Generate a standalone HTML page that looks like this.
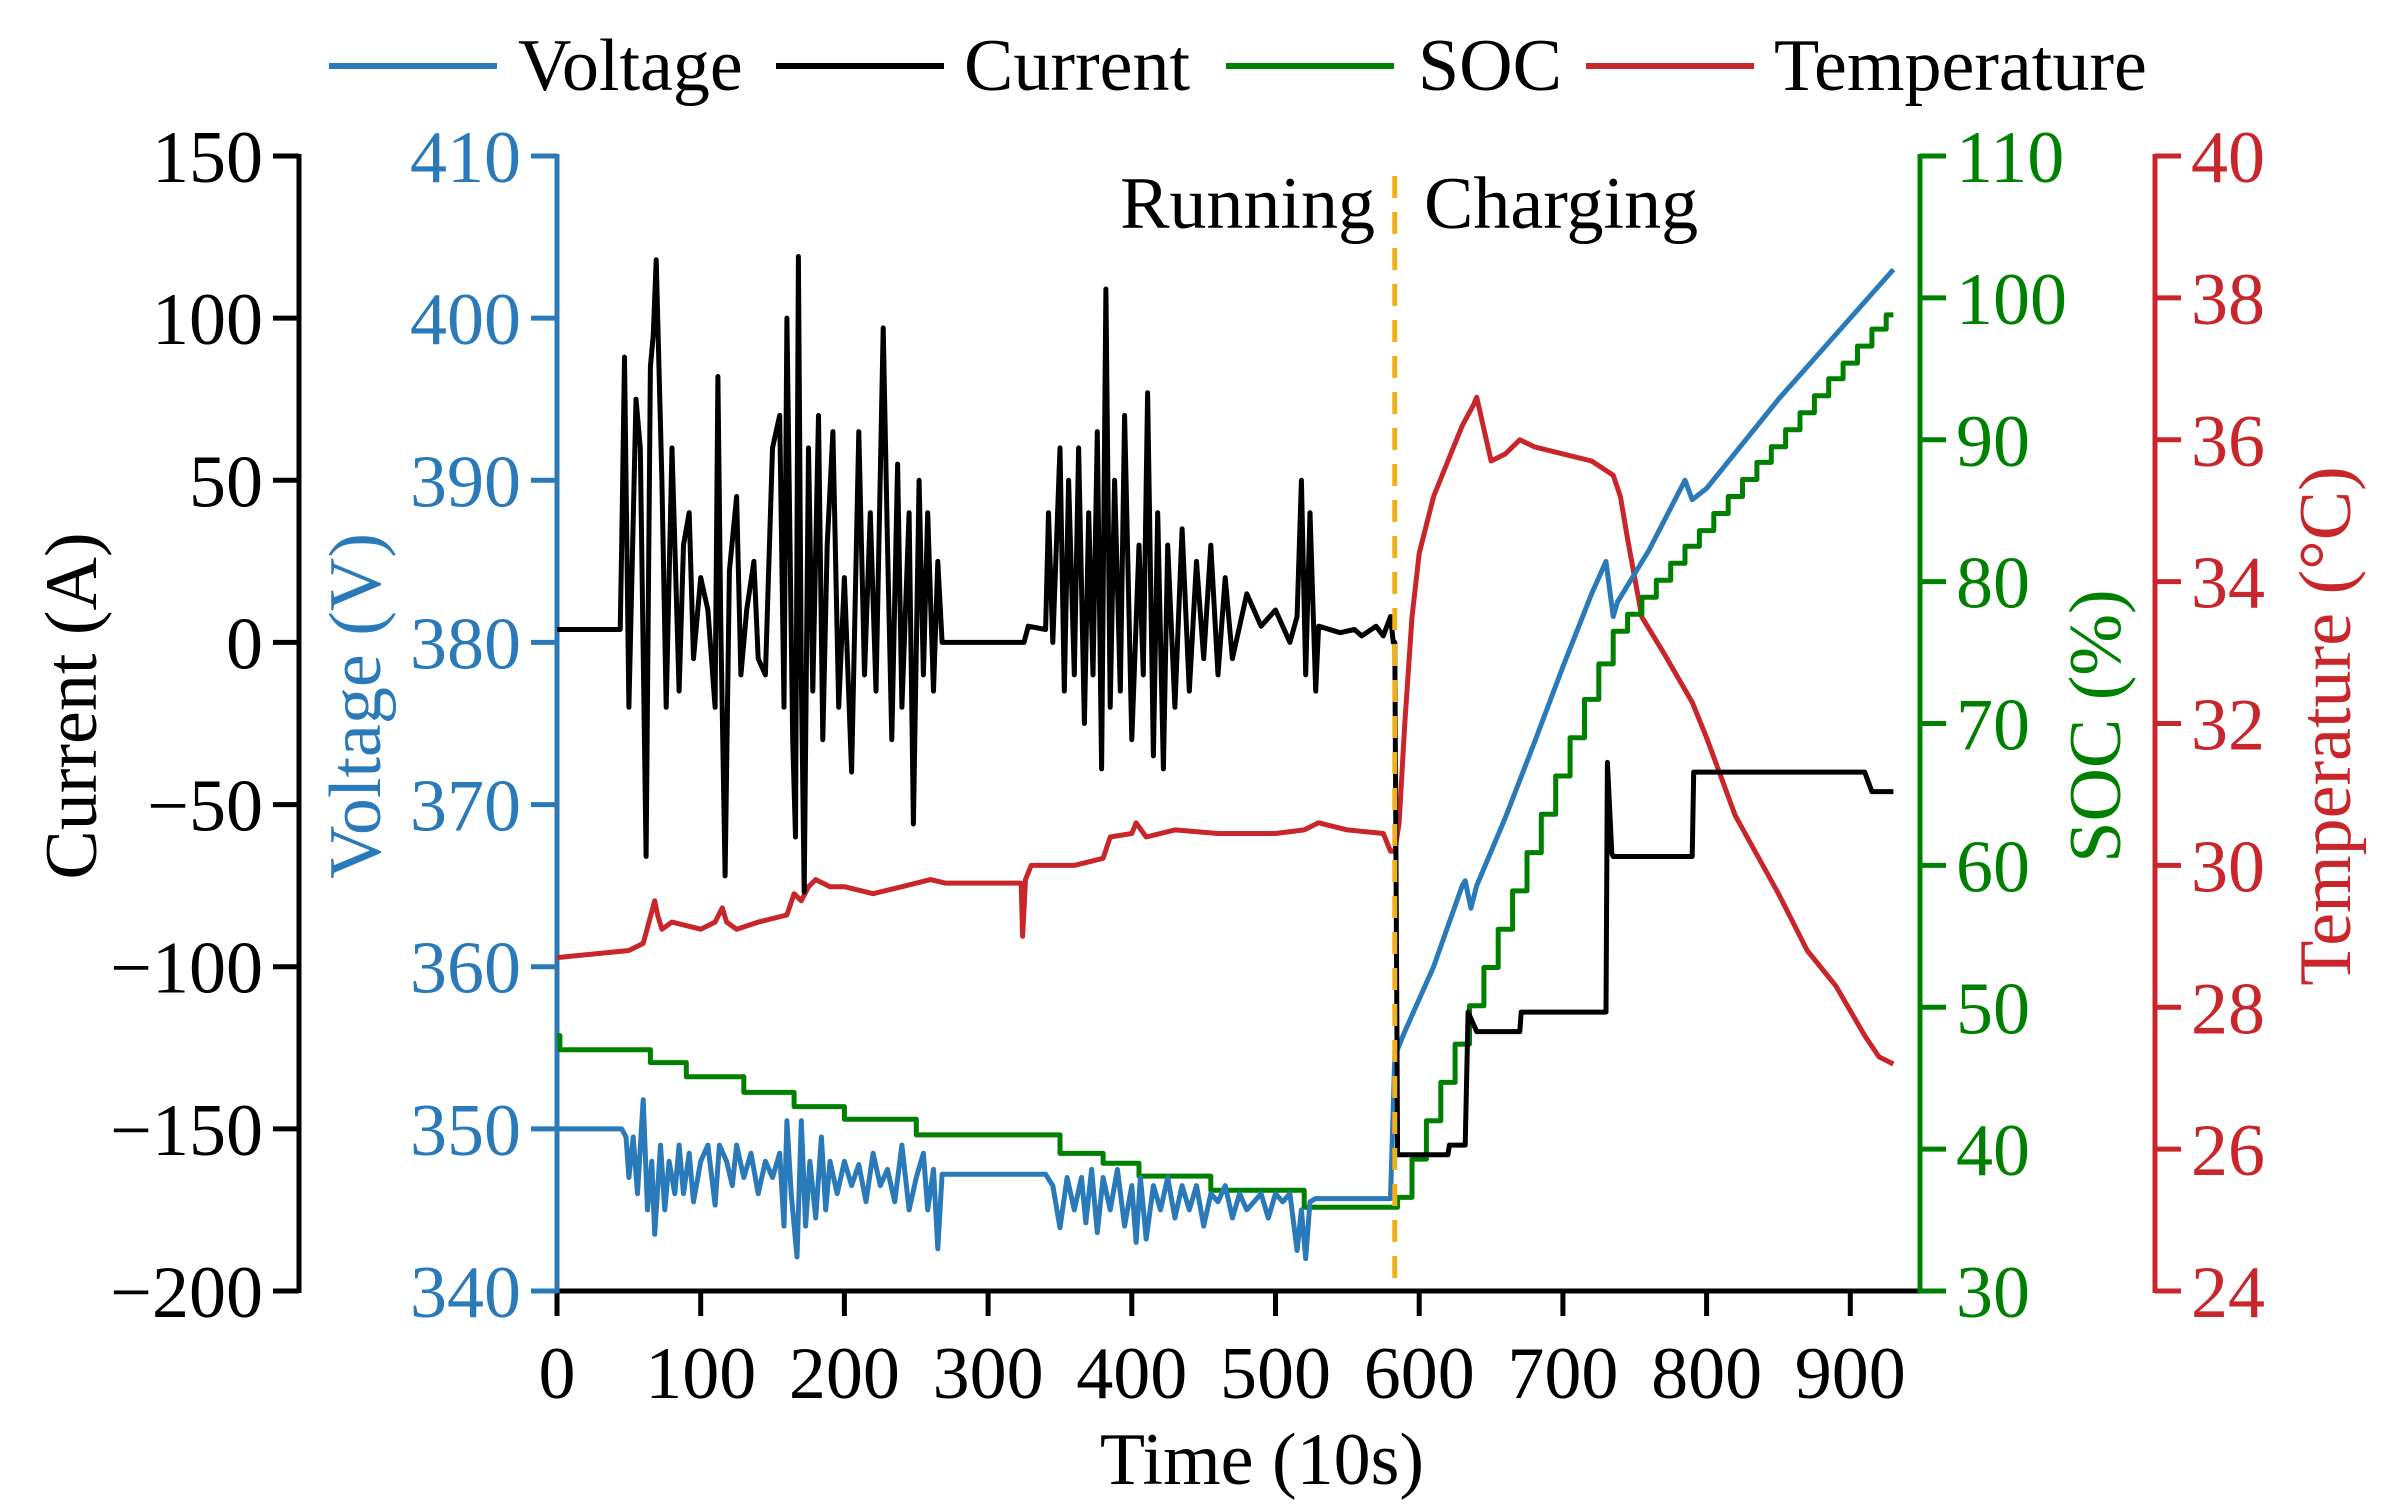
<!DOCTYPE html>
<html><head><meta charset="utf-8"><style>
html,body{margin:0;padding:0;background:#fff}
svg{display:block;font-family:"Liberation Serif",serif}
</style></head><body>
<svg id="chart" width="2384" height="1511" viewBox="0 0 2384 1511" xmlns="http://www.w3.org/2000/svg">
<g id="axes"></g>
<g id="series"></g>
<g font-size="74">
  <line x1="329" y1="66" x2="497" y2="66" stroke="#2a7ab9" stroke-width="6"/>
  <text x="518" y="90">Voltage</text>
  <line x1="776" y1="66" x2="944" y2="66" stroke="#000" stroke-width="6"/>
  <text x="964" y="90">Current</text>
  <line x1="1226" y1="66" x2="1394" y2="66" stroke="#008000" stroke-width="6"/>
  <text x="1418" y="90">SOC</text>
  <line x1="1586" y1="66" x2="1754" y2="66" stroke="#c8262a" stroke-width="6"/>
  <text x="1774" y="90">Temperature</text>
</g>
<text x="1375" y="228" font-size="74" text-anchor="end">Running</text>
<text x="1424" y="228" font-size="74">Charging</text>
<text x="1262" y="1484" font-size="74" text-anchor="middle">Time (10s)</text>
<text transform="translate(96,706) rotate(-90)" font-size="74" text-anchor="middle">Current (A)</text>
<text transform="translate(380,706) rotate(-90)" font-size="74" text-anchor="middle" fill="#2a7ab9">Voltage (V)</text>
<text transform="translate(2120,726) rotate(-90)" font-size="74" text-anchor="middle" fill="#008000">SOC (%)</text>
<text transform="translate(2350,726) rotate(-90)" font-size="74" text-anchor="middle" fill="#c8262a">Temperature (°C)</text>
</svg>
<script>
const xTicks=[0,100,200,300,400,500,600,700,800,900];
const currentTicks=[150,100,50,0,-50,-100,-150,-200];
const voltageTicks=[410,400,390,380,370,360,350,340];
const socTicks=[110,100,90,80,70,60,50,40,30];
const tempTicks=[40,38,36,34,32,30,28,26,24];
const phaseBoundary=583;

const voltageT=[0,45,48,50,53,56,60,63,66,68,72,75,78,82,85,88,92,95,100,105,110,113,118,122,125,130,135,140,145,150,155,158,160,163,167,170,173,176,180,184,187,190,195,200,205,210,215,220,225,230,235,240,245,250,255,258,262,265,268,270,340,345,350,355,360,365,368,372,376,380,385,390,395,400,403,406,410,415,420,425,430,435,440,445,450,455,460,465,470,475,480,490,495,500,505,510,515,518,521,524,528,580,583,590,600,610,620,630,632,636,640,660,680,700,720,730,735,738,760,785,790,800,850,900,910,930];
const voltageV=[350,350,349.5,347,349.5,346,351.8,345,348,343.5,349,345,348,346,349,346,348.5,345.5,348,349,345.3,349,348,346.5,349,347,348.5,346,348,347,348.5,344,350.5,346,342.1,350.5,344,348,344.5,349.5,345,348,346,348,346.5,347.8,345.5,348.5,346.5,347.5,345.5,349,345,347,348.5,345,347.5,342.6,347.2,347.2,347.2,346.5,343.9,347,345,347,344.2,347.5,343.6,347,345,347.5,344,346.5,343,347,343.2,346.5,345,347,344.5,346.5,345,346.5,344,346,345.5,346.5,344.5,346,345,346,344.5,346,345.5,346,342.5,345,342,345.5,345.7,345.7,354.5,356,358,360,362.5,365,365.3,363.6,365,369.2,373.8,378.5,383,385,381.6,382.5,385.7,390,388.8,389.5,395,400,401,403];

const currentT=[0,44,45,47,50,55,58,62,65,67,
 69,73,76,80,85,88,92,95,100,105,
 110,112,114,117,120,125,128,132,137,140,
 145,150,155,158,160,164,166,168,170,172,
 175,178,182,185,188,192,196,200,205,210,
 214,218,222,227,230,233,237,240,245,248,
 252,255,258,262,265,268,270,325,328,340,
 342,345,350,353,356,360,363,367,370,373,
 376,379,382,385,388,392,395,400,405,408,
 411,415,418,422,425,430,435,440,445,450,
 455,460,465,470,480,490,500,510,515,518,
 521,524,528,530,545,555,560,570,575,580,
 582,583,585,620,621,632,634,640,670,671,
 730,731,734,735,790,791,910,915,930];
const currentI=[4,4,30,88,-20,75,60,-66,85,95,
 118,50,-20,60,-15,30,40,-5,20,10,
 -20,82,5,-72,22,45,-10,10,25,-5,
 -10,60,70,-20,100,-30,-60,119,-10,-77,
 60,-15,70,-30,30,65,-20,20,-40,65,
 -10,40,-15,97,30,-30,55,-20,40,-56,
 50,-10,40,-15,25,0,0,0,5,4,
 40,0,60,-15,50,-10,60,-25,40,-10,
 65,-39,109,-20,50,-15,70,-30,30,-10,
 77,-35,40,-39,30,-20,35,-15,25,-5,
 30,-10,20,-5,15,5,10,0,8,50,
 -10,40,-15,5,3,4,2,5,2,8,
 0,0,-158,-158,-155,-155,-114,-120,-120,-114,
 -114,-37,-65,-66,-66,-40,-40,-46,-46];

const tempT=[0,50,60,68,70,73,80,100,110,115,118,125,140,160,165,170,175,180,190,200,220,240,260,270,323,324,326,330,360,380,385,400,403,410,430,460,500,520,530,550,575,580,583,586,590,595,600,610,620,630,638,640,650,660,670,680,700,720,735,740,745,755,770,790,800,820,850,870,890,910,920,930];
const tempC=[28.7,28.8,28.9,29.5,29.3,29.1,29.2,29.1,29.2,29.4,29.2,29.1,29.2,29.3,29.6,29.5,29.7,29.8,29.7,29.7,29.6,29.7,29.8,29.75,29.75,29.0,29.8,30.0,30.0,30.1,30.4,30.45,30.6,30.4,30.5,30.45,30.45,30.5,30.6,30.5,30.45,30.2,30.2,30.6,32.0,33.5,34.4,35.2,35.7,36.2,36.5,36.6,35.7,35.8,36.0,35.9,35.8,35.7,35.5,35.2,34.6,33.5,33.0,32.3,31.8,30.7,29.6,28.8,28.3,27.6,27.3,27.2];

const socT=[0,2,65,90,130,165,200,250,350,380,405,455,520,585,595,605,615,625,635,645,655,665,675,685,695,705,715,725,735,745,755,765,775,785,795,805,815,825,835,845,855,865,875,885,895,905,915,925,930];
const socV=[48,47,46.1,45.1,44,43,42.1,41,39.7,39,38.1,37.1,35.9,36.6,39.3,42,44.7,47.4,50.1,52.8,55.5,58.2,60.9,63.6,66.3,69,71.7,74.2,76.5,77.7,78.9,80.1,81.3,82.5,83.6,84.8,86,87.2,88.4,89.5,90.7,91.9,93.1,94.3,95.4,96.6,97.8,98.8,98.8];

const NS='http://www.w3.org/2000/svg';
const X0=557,XS=1.437,YT=156,YB=1291,H=YB-YT;
const xS=t=>X0+t*XS;
const yV=v=>YB-(v-340)/70*H;
const yI=i=>YB-(i+200)/350*H;
const yS=s=>YB-(s-30)/80*H;
const yTe=c=>YB-(c-24)/16*H;
const BLUE='#2a7ab9',GREEN='#008000',RED='#c8262a';
const axes=document.getElementById('axes'),series=document.getElementById('series');
function mk(tag,attrs,parent){const e=document.createElementNS(NS,tag);for(const k in attrs)e.setAttribute(k,attrs[k]);parent.appendChild(e);return e;}

let e=mk('line',{x1:X0-2,y1:YB,x2:1920,y2:YB,stroke:'#000','stroke-width':5},axes);


xTicks.forEach(t=>{
  let l=mk('line',{x1:xS(t),y1:YB,x2:xS(t),y2:YB+25,stroke:'#000','stroke-width':5},axes);
  
  
  let tx=mk('text',{x:xS(t),y:1398,'font-size':74,'text-anchor':'middle'},axes);tx.textContent=t;
  
  
});
function yAxis(x,ticks,fy,color,side,name){
  let a=mk('line',{x1:x,y1:YT-2,x2:x,y2:YB+2,stroke:color,'stroke-width':5},axes);
  
  
  ticks.forEach(v=>{
    const y=fy(v);
    let l=mk('line',{x1:x,y1:y,x2:x+side*26,y2:y,stroke:color,'stroke-width':5},axes);
    
    
    let tx=mk('text',{x:x+side*36,y:y+26,'font-size':74,fill:color,'text-anchor':side<0?'end':'start'},axes);
    tx.textContent=v<0?'\u2212'+(-v):v;
    
    
  });
}
yAxis(299,currentTicks,yI,'#000',-1,'current-axis');
yAxis(557,voltageTicks,yV,BLUE,-1,'voltage-axis');
yAxis(1920,socTicks,yS,GREEN,1,'soc-axis');
yAxis(2155,tempTicks,yTe,RED,1,'temperature-axis');

function poly(ts,vs,fy,color,name,step){
  let pts=[];
  for(let i=0;i<ts.length;i++){
    if(step&&i>0)pts.push(xS(ts[i]).toFixed(1)+','+fy(vs[i-1]).toFixed(1));
    pts.push(xS(ts[i]).toFixed(1)+','+fy(vs[i]).toFixed(1));
  }
  let p=mk('polyline',{points:pts.join(' '),fill:'none',stroke:color,'stroke-width':5,'stroke-linejoin':'round'},series);
  
  
}
poly(tempT,tempC,yTe,RED,'temperature-line',false);
poly(socT,socV,yS,GREEN,'soc-line',true);
poly(voltageT,voltageV,yV,BLUE,'voltage-line',false);
poly(currentT,currentI,yI,'#000','current-line',false);

let d=mk('line',{x1:xS(phaseBoundary),y1:YT+20,x2:xS(phaseBoundary),y2:YB,stroke:'#edb120','stroke-width':5,'stroke-dasharray':'22,14'},series);


</script>
</body></html>
